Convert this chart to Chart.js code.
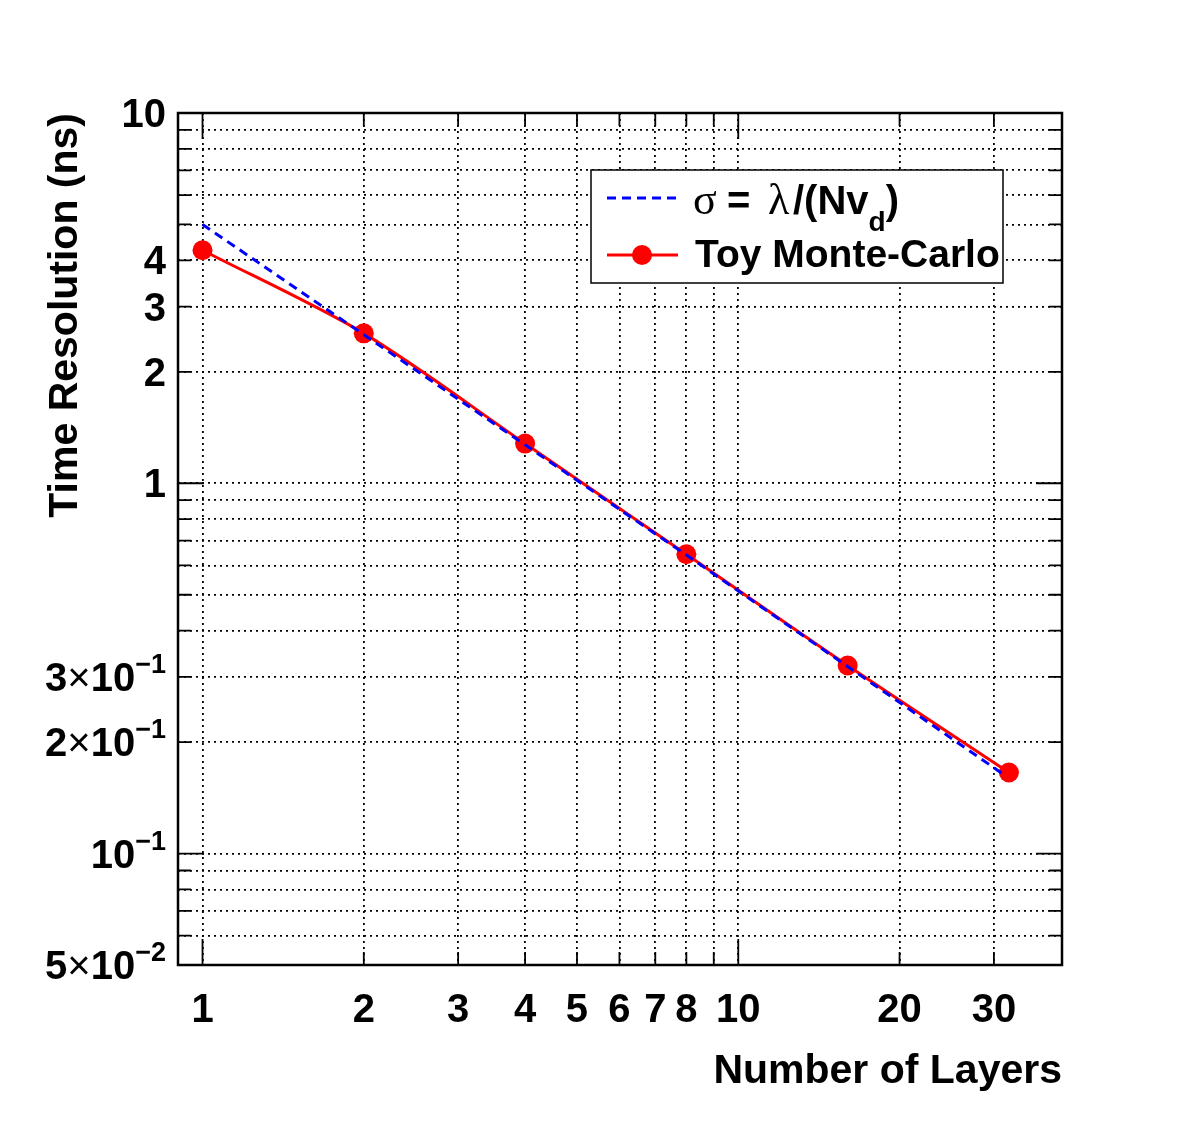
<!DOCTYPE html>
<html>
<head>
<meta charset="utf-8">
<script src="https://cdn.jsdelivr.net/npm/chart.js@4.4.1/dist/chart.umd.min.js"></script>
<style>
  body { margin: 0; background: #fff; }
  canvas { display: block; }
</style>
</head>
<body>
<canvas id="myChart" width="1182" height="1136"></canvas>
<script>
// data
const layers = [1, 2, 4, 8, 16, 32];
const toyMC = [4.26, 2.54, 1.28, 0.643, 0.322, 0.1655];
const modelLayers = [1, 2, 4, 8, 16, 31];
const modelSigma = [5.0, 2.52, 1.27, 0.64, 0.32, 0.165];

// axes
const xGrid = [1, 2, 3, 4, 5, 6, 7, 8, 9, 10, 20, 30];
const xTickValues = [1, 2, 3, 4, 5, 6, 7, 8, 10, 20, 30];
const xTickLabels = ['1', '2', '3', '4', '5', '6', '7', '8', '10', '20', '30'];
const yGrid = [0.05, 0.06, 0.07, 0.08, 0.09, 0.1, 0.2, 0.3, 0.4, 0.5, 0.6, 0.7, 0.8, 0.9,
               1, 2, 3, 4, 5, 6, 7, 8, 9, 10];
const yTickValues = [10, 4, 3, 2, 1, 0.3, 0.2, 0.1, 0.05];
const yTickLabels = ['10', '4', '3', '2', '1', '3×10^−1', '2×10^−1', '10^−1', '5×10^−2'];

const xTitle = 'Number of Layers';
const yTitle = 'Time Resolution (ns)';
const legendToy = 'Toy Monte-Carlo';

const bold = (s) => 'bold ' + s + 'px "Liberation Sans", Arial, sans-serif';
const plain = (s) => s + 'px "Liberation Sans", Arial, sans-serif';
const serif = (s) => s + 'px "Liberation Serif", "DejaVu Serif", serif';

const isDecade = (v) => Math.abs(Math.log10(v) - Math.round(Math.log10(v))) < 1e-9;

// draws frame, inward ticks, tick labels, titles and legend
const rootStyle = {
    id: 'rootStyle',
    beforeDraw(chart) {
        const ctx = chart.ctx;
        ctx.save();
        ctx.fillStyle = '#fff';
        ctx.fillRect(0, 0, chart.width, chart.height);
        ctx.restore();
    },
    afterDraw(chart) {
        const ctx = chart.ctx;
        const a = chart.chartArea;
        const xs = chart.scales.x, ys = chart.scales.y;
        ctx.save();

        //tick marks on all four sides, pointing in
        ctx.strokeStyle = '#000';
        ctx.lineWidth = 1.8;
        ctx.beginPath();
        xGrid.forEach(v => {
            const px = xs.getPixelForValue(v);
            const len = isDecade(v) ? 26 : 13;
            ctx.moveTo(px, a.bottom); ctx.lineTo(px, a.bottom - len);
            ctx.moveTo(px, a.top); ctx.lineTo(px, a.top + len);
        });
        yGrid.forEach(v => {
            const py = ys.getPixelForValue(v);
            const len = isDecade(v) ? 26 : 13;
            ctx.moveTo(a.left, py); ctx.lineTo(a.left + len, py);
            ctx.moveTo(a.right, py); ctx.lineTo(a.right - len, py);
        });
        ctx.stroke();

        //frame
        ctx.lineWidth = 2.5;
        ctx.strokeRect(a.left, a.top, a.right - a.left, a.bottom - a.top);

        ctx.fillStyle = '#000';
        ctx.textBaseline = 'alphabetic';

        //x labels
        ctx.font = bold(40);
        ctx.textAlign = 'center';
        xTickValues.forEach((v, i) => {
            ctx.fillText(xTickLabels[i], xs.getPixelForValue(v), 1022);
        });

        //y labels, with ROOT style 3x10^-1
        ctx.textAlign = 'left';
        yTickValues.forEach((v, i) => {
            const py = ys.getPixelForValue(v) + 14;
            const parts = yTickLabels[i].split('^');
            const base = parts[0];
            const exp = parts[1] || '';
            const pieces = [];
            if (base.includes('×')) {
                const m = base.split('×');
                pieces.push([m[0], bold(40), 0]);
                pieces.push(['×', plain(40), 0]);
                pieces.push([m[1], bold(40), 0]);
            } else {
                pieces.push([base, bold(40), 0]);
            }
            if (exp) pieces.push([exp, bold(27), -18]);
            let w = 0;
            pieces.forEach(p => { ctx.font = p[1]; w += ctx.measureText(p[0]).width; });
            let x = 166 - w;
            pieces.forEach(p => {
                ctx.font = p[1];
                ctx.fillText(p[0], x, py + p[2]);
                x += ctx.measureText(p[0]).width;
            });
        });

        //axis titles
        ctx.font = bold(41);
        ctx.textAlign = 'right';
        ctx.fillText(xTitle, a.right, 1083);
        ctx.save();
        ctx.translate(77, a.top);
        ctx.rotate(-Math.PI / 2);
        ctx.fillText(yTitle, 0, 0);
        ctx.restore();

        //legend box
        ctx.fillStyle = '#fff';
        ctx.fillRect(591, 170, 412, 113);
        ctx.lineWidth = 1.5;
        ctx.strokeStyle = '#000';
        ctx.strokeRect(591, 170, 412, 113);

        //entry 1: dashed blue
        ctx.strokeStyle = '#0000ff';
        ctx.lineWidth = 3;
        ctx.setLineDash([9, 6]);
        ctx.beginPath();
        ctx.moveTo(607, 198); ctx.lineTo(676, 198);
        ctx.stroke();
        ctx.setLineDash([]);

        ctx.fillStyle = '#000';
        ctx.textAlign = 'left';
        ctx.font = serif(44);
        ctx.fillText('σ', 693, 214);
        ctx.font = bold(40);
        ctx.fillText('=', 727, 214);
        ctx.font = serif(44);
        ctx.fillText('λ', 768, 214);
        ctx.font = bold(40);
        ctx.fillText('/(Nv', 793, 214);
        let dx = 793 + ctx.measureText('/(Nv').width;
        ctx.font = bold(28);
        ctx.fillText('d', dx, 231);
        dx += ctx.measureText('d').width;
        ctx.font = bold(40);
        ctx.fillText(')', dx, 214);

        //entry 2: red line with marker
        ctx.strokeStyle = '#ff0000';
        ctx.lineWidth = 3;
        ctx.beginPath();
        ctx.moveTo(607, 255); ctx.lineTo(678, 255);
        ctx.stroke();
        ctx.fillStyle = '#ff0000';
        ctx.beginPath();
        ctx.arc(642, 255, 10, 0, Math.PI * 2);
        ctx.fill();
        ctx.fillStyle = '#000';
        ctx.font = bold(39);
        ctx.fillText(legendToy, 695, 267);

        ctx.restore();
    }
};

const gridStyle = {
    color: '#000',
    lineWidth: 1.8,
    drawTicks: false
};

new Chart('myChart', {
    type: 'scatter',
    data: {
        datasets: [{
            label: 'σ = λ/(Nv_d)',
            data: modelLayers.map((x, i) => ({ x: x, y: modelSigma[i] })),
            showLine: true,
            borderColor: '#0000ff',
            borderWidth: 3,
            borderDash: [9, 6],
            pointRadius: 0,
            tension: 0,
            order: 0
        }, {
            label: legendToy,
            data: layers.map((x, i) => ({ x: x, y: toyMC[i] })),
            showLine: true,
            borderColor: '#ff0000',
            borderWidth: 3,
            pointRadius: 10,
            pointHoverRadius: 10,
            pointBackgroundColor: '#ff0000',
            pointBorderWidth: 0,
            tension: 0.3,
            order: 1
        }]
    },
    options: {
        responsive: false,
        animation: false,
        layout: { padding: { top: 113, right: 120, left: 0, bottom: 0 } },
        plugins: {
            legend: { display: false },
            tooltip: { enabled: false }
        },
        scales: {
            x: {
                type: 'logarithmic',
                min: 0.9,
                max: 40.2,
                grid: gridStyle,
                border: { display: false, dash: [2, 4] },
                ticks: { display: false },
                afterBuildTicks: (scale) => { scale.ticks = xGrid.map(v => ({ value: v })); },
                afterFit: (scale) => { scale.height = 171; }
            },
            y: {
                type: 'logarithmic',
                min: 0.05,
                max: 10,
                grid: gridStyle,
                border: { display: false, dash: [2, 4] },
                ticks: { display: false },
                afterBuildTicks: (scale) => { scale.ticks = yGrid.map(v => ({ value: v })); },
                afterFit: (scale) => { scale.width = 178; }
            }
        }
    },
    plugins: [rootStyle]
});
</script>
</body>
</html>
